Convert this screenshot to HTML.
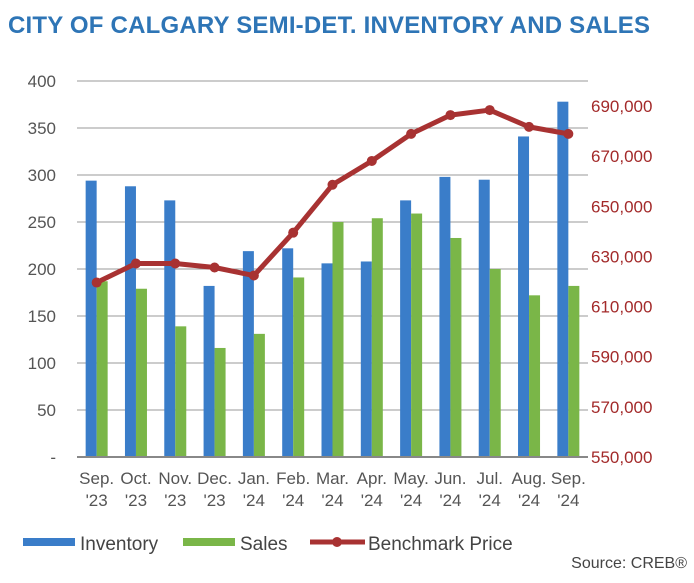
<!DOCTYPE html>
<html><head><meta charset="utf-8"><style>
body{margin:0;background:#fff;width:694px;height:578px;overflow:hidden;font-family:"Liberation Sans",Arial,sans-serif}
</style></head><body>
<svg width="694" height="578" id="c" style="font-family:'Liberation Sans',Arial,sans-serif">
<text x="8" y="33" font-size="24" font-weight="bold" fill="#2e75b6" textLength="642">CITY OF CALGARY SEMI-DET. INVENTORY AND SALES</text>
<g id="grid"></g><g id="bars"></g><g id="line"></g><g id="axes"></g>
<g font-size="19" fill="#444">
<rect x="23" y="538" width="52" height="8" fill="#3a7dc9"/>
<text x="80" y="550">Inventory</text>
<rect x="183" y="538" width="52" height="8" fill="#7ab648"/>
<text x="240" y="550">Sales</text>
<line x1="310" y1="542" x2="365" y2="542" stroke="#a83232" stroke-width="5"/>
<circle cx="337" cy="542" r="5" fill="#a83232"/>
<text x="368" y="550">Benchmark Price</text>
</g>
<text x="687" y="568" text-anchor="end" font-size="16" fill="#444">Source: CREB®</text>
</svg>
<script>
const categories=["Sep.|'23","Oct.|'23","Nov.|'23","Dec.|'23","Jan.|'24","Feb.|'24","Mar.|'24","Apr.|'24","May.|'24","Jun.|'24","Jul.|'24","Aug.|'24","Sep.|'24"];
const inventory=[294,288,273,182,219,222,206,208,273,298,295,341,378];
const sales=[187,179,139,116,131,191,250,254,259,233,200,172,182];
const price=[619600,627200,627200,625600,622400,639500,658600,668100,678900,686400,688400,681700,678900];
const leftTicks=[0,50,100,150,200,250,300,350,400];
const rightTicks=[550000,570000,590000,610000,630000,650000,670000,690000];
const NS="http://www.w3.org/2000/svg";
const X0=77,X1=588,YB=457,YT=81;
const bw=(X1-X0)/categories.length;
const yL=v=>YB-(v/400)*(YB-YT);
const yR=v=>YB-((v-550000)/150000)*(YB-YT);
const xc=i=>X0+bw*(i+0.5);
function mk(t,a,p){const e=document.createElementNS(NS,t);for(const k in a)e.setAttribute(k,a[k]);p.appendChild(e);return e;}
const G=document.getElementById('grid'),B=document.getElementById('bars'),L=document.getElementById('line'),A=document.getElementById('axes');
leftTicks.forEach(v=>{
 const y=yL(v);
 if(v>0){const g=mk('line',{x1:X0,x2:X1,y1:y,y2:y,stroke:'#999','stroke-width':1},G);
 
 }
 const t=mk('text',{x:56,y:y+6,'text-anchor':'end','font-size':17,fill:'#555'},A);t.textContent=v===0?'-':v;
 
 
});
rightTicks.forEach(v=>{
 const t=mk('text',{x:591,y:yR(v)+6,'font-size':17,fill:'#a32a2a'},A);t.textContent=v.toLocaleString('en-US');
 
 
});
const ax=mk('line',{x1:X0,x2:X1,y1:YB,y2:YB,stroke:'#888','stroke-width':2},A);


categories.forEach((c,i)=>{
 const cx=xc(i);
 const b1=mk('rect',{x:cx-11,y:yL(inventory[i]),width:11,height:YB-yL(inventory[i]),fill:'#3a7dc9'},B);
 
 
 const b2=mk('rect',{x:cx,y:yL(sales[i]),width:11,height:YB-yL(sales[i]),fill:'#7ab648'},B);
 
 
 const p=c.split('|');
 const t1=mk('text',{x:cx,y:484,'text-anchor':'middle','font-size':17,fill:'#555'},A);t1.textContent=p[0];
 
 
 const t2=mk('text',{x:cx,y:506,'text-anchor':'middle','font-size':17,fill:'#555'},A);t2.textContent=p[1];
 
 
});
const pl=mk('polyline',{points:price.map((v,i)=>xc(i)+','+yR(v)).join(' '),fill:'none',stroke:'#a83232','stroke-width':5,'stroke-linejoin':'round'},L);


price.forEach((v,i)=>{
 const d=mk('circle',{cx:xc(i),cy:yR(v),r:5,fill:'#a83232'},L);
 
 
});
</script>
</body></html>
